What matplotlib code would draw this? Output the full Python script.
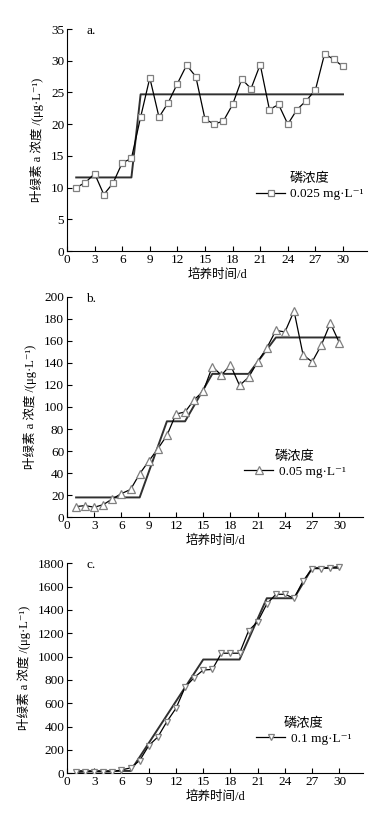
"""Chlorophyll-a concentration vs. culture time at three phosphorus levels."""

import matplotlib

matplotlib.use("Agg")
import matplotlib.pyplot as plt

# serif for numbers, CJK fallback for the Chinese labels
plt.rcParams["font.family"] = ["Liberation Serif", "Noto Sans CJK SC", "DejaVu Serif"]

days = list(range(1, 31))

# panel a: 0.025 mg/L
chl_a = [10.0, 10.8, 12.2, 8.9, 10.7, 13.9, 14.6, 21.1, 27.3, 21.1,
         23.4, 26.4, 29.3, 27.5, 20.8, 20.0, 20.5, 23.1, 27.1, 25.6,
         29.4, 22.3, 23.1, 20.0, 22.3, 23.7, 25.4, 31.1, 30.2, 29.1]
step_a_x = [1, 7, 8, 30]
step_a_y = [11.6, 11.6, 24.7, 24.7]

# panel b: 0.05 mg/L
chl_b = [9.7, 10.6, 9.1, 11.5, 16.7, 21.5, 25.2, 39.4, 50.9, 62.1,
         74.2, 93.6, 95.5, 106.5, 114.3, 136.5, 128.9, 138.0, 119.5, 127.0,
         141.0, 153.5, 169.4, 168.0, 187.0, 147.0, 141.0, 156.0, 176.0, 158.0]
step_b_x = [1, 8, 11, 13, 16, 20, 23, 30]
step_b_y = [18, 18, 87, 87, 130, 130, 163, 163]

# panel c: 0.1 mg/L
chl_c = [9, 12, 14, 12, 13, 29, 46, 109, 237, 311,
         443, 557, 737, 820, 885, 890, 1029, 1029, 1029, 1222,
         1300, 1451, 1534, 1534, 1500, 1649, 1754, 1754, 1763, 1772]
step_c_x = [1, 7, 15, 19, 22, 25, 27, 30]
step_c_y = [20, 20, 975, 975, 1500, 1500, 1760, 1760]

xticks = list(range(0, 31, 3))
ylabel = "叶绿素 a 浓度 /(μg·L⁻¹)"
xlabel = "培养时间/d"
legend_title = "磷浓度"

panels = [
    # tag, y data, step x, step y, marker, size, label, ylim, ystep, axes rect, legend anchor
    ("a.", chl_a, step_a_x, step_a_y, "s", 4.5, "0.025 mg·L⁻¹", 35, 5,
     [0.1736, 0.692, 0.777, 0.2724], (0.81, 0.29)),
    ("b.", chl_b, step_b_x, step_b_y, "^", 5.5, "0.05 mg·L⁻¹", 200, 20,
     [0.1736, 0.3653, 0.767, 0.2707], (0.77, 0.24)),
    ("c.", chl_c, step_c_x, step_c_y, "v", 4.5, "0.1 mg·L⁻¹", 1800, 200,
     [0.1736, 0.0512, 0.767, 0.2577], (0.80, 0.20)),
]

fig = plt.figure(figsize=(3.86, 8.15), dpi=100)

for tag, ys, sx, sy, mk, ms, label, ymax, ystep, rect, anchor in panels:
    ax = fig.add_axes(rect)
    ax.plot(sx, sy, color="#303030", lw=1.4, zorder=2)
    ax.plot(days, ys, color="black", lw=0.9, marker=mk, ms=ms,
            mfc="white", mec="#808080", mew=0.9, label=label, zorder=3)

    ax.set_xlim(0, 32.6)
    ax.set_ylim(0, ymax)
    ax.set_xticks(xticks)
    ax.set_yticks(range(0, ymax + 1, ystep))
    for side in ("top", "right"):
        ax.spines[side].set_visible(False)
    ax.tick_params(direction="in", length=3.5, width=0.8, labelsize=9.5, pad=2)

    ax.set_ylabel(ylabel, fontsize=9, labelpad=5)
    ax.set_xlabel(xlabel, fontsize=9, labelpad=2)
    ax.text(0.065, 0.99, tag, transform=ax.transAxes, fontsize=9.5,
            va="center", ha="left")

    ax.legend(loc="center", bbox_to_anchor=anchor, frameon=False,
              title=legend_title, fontsize=9.5, title_fontsize=9.5,
              handlelength=2.2, handletextpad=0.4, borderpad=0,
              labelspacing=0.2)

fig.savefig("out.png", dpi=100)
plt.close(fig)
